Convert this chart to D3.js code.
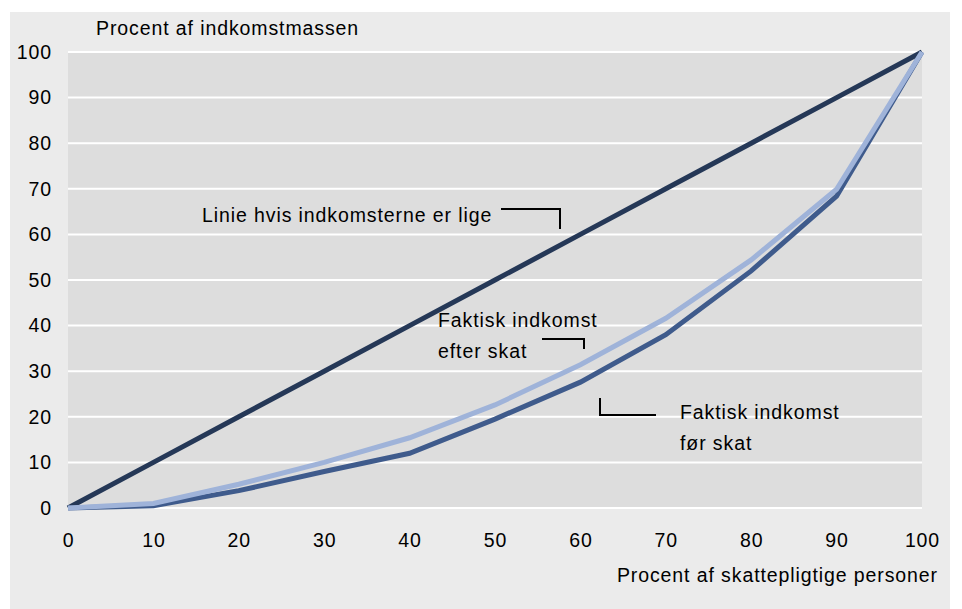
<!DOCTYPE html>
<html>
<head>
<meta charset="utf-8">
<script src="https://cdn.jsdelivr.net/npm/d3@7"></script>
<style>
  body { margin: 0; background: #ffffff; }
  svg text { font-family: "Liberation Sans", Arial, sans-serif; fill: #000; letter-spacing: 0.9px; }
</style>
</head>
<body>
<svg id="chart" width="962" height="609"></svg>
<script>
"use strict";

// data (percent of taxpayers -> percent of income)
var pctPersons = [0, 10, 20, 30, 40, 50, 60, 70, 80, 90, 100];
var equalLine = [0, 10, 20, 30, 40, 50, 60, 70, 80, 90, 100];
var beforeTax = [0, 0.5, 3.8, 8, 12, 19.5, 27.6, 38, 52, 68.4, 100];
var afterTax = [0, 1, 5.2, 10, 15.4, 22.6, 31.4, 41.6, 54.4, 69.9, 100];
var yTicks = [0, 10, 20, 30, 40, 50, 60, 70, 80, 90, 100];
var xTicks = [0, 10, 20, 30, 40, 50, 60, 70, 80, 90, 100];

var svg = d3.select('#chart');
var FONT = '19.5px';

var margin = { top: 52, left: 68, right: 40, bottom: 101 };
var width = 962 - margin.left - margin.right;
var height = 609 - margin.top - margin.bottom;

var X = d3.scaleLinear().domain([0, 100]).range([0, width]);
var Y = d3.scaleLinear().domain([0, 100]).range([height, 0]);

// outer panel
svg.append('rect')
  .attr('x', 10).attr('y', 12)
  .attr('width', 940).attr('height', 597)
  .attr('fill', '#ebebeb');

var plot = svg.append('g')
  .attr('transform', 'translate(' + margin.left + ',' + margin.top + ')');

plot.append('rect')
  .attr('width', width).attr('height', height)
  .attr('fill', '#dddddd');

plot.selectAll('.grid')
  .data(yTicks)
  .enter().append('line')
  .attr('class', 'grid')
  .attr('x1', 0).attr('x2', width)
  .attr('y1', d => Y(d)).attr('y2', d => Y(d))
  .attr('stroke', '#ffffff')
  .attr('stroke-width', 2);

var yaxis = d3.axisLeft(Y).tickValues(yTicks).tickSize(0).tickPadding(16);
var xaxis = d3.axisBottom(X).tickValues(xTicks).tickSize(0).tickPadding(25);

var gy = plot.append('g').attr('class', 'axis y').call(yaxis);
var gx = plot.append('g').attr('class', 'axis x')
  .attr('transform', 'translate(0,' + height + ')').call(xaxis);
[gx, gy].forEach(function (g) {
  g.select('.domain').remove();
  g.selectAll('text')
    .style('font-family', '"Liberation Sans", Arial, sans-serif')
    .style('font-size', FONT)
    .attr('fill', '#000');
});

var line = function (vals) {
  return d3.line()
    .x((d, i) => X(pctPersons[i]))
    .y(d => Y(d))(vals);
};

var series = [
  { vals: equalLine, color: '#253857' },
  { vals: beforeTax, color: '#3f5b8c' },
  { vals: afterTax, color: '#9fb3d9' }
];
series.forEach(function (s) {
  plot.append('path')
    .attr('d', line(s.vals))
    .attr('fill', 'none')
    .attr('stroke', s.color)
    .attr('stroke-width', 5)
    .attr('stroke-linejoin', 'miter');
});

// axis titles
svg.append('text')
  .attr('x', 96).attr('y', 35)
  .style('font-size', FONT)
  .text('Procent af indkomstmassen');
svg.append('text')
  .attr('x', 938).attr('y', 582)
  .attr('text-anchor', 'end')
  .style('font-size', FONT)
  .text('Procent af skattepligtige personer');

// annotations with leader lines
var notes = [
  { lines: ['Linie hvis indkomsterne er lige'], tx: 202, ty: 222,
    path: [[501, 209], [560, 209], [560, 229]] },
  { lines: ['Faktisk indkomst', 'efter skat'], tx: 438, ty: 327,
    path: [[542, 339], [584, 339], [584, 349]] },
  { lines: ['Faktisk indkomst', 'før skat'], tx: 680, ty: 419,
    path: [[600, 398], [600, 415], [656, 415]] }
];
notes.forEach(function (n) {
  var t = svg.append('text')
    .attr('x', n.tx).attr('y', n.ty)
    .style('font-size', FONT);
  n.lines.forEach(function (l, i) {
    t.append('tspan').attr('x', n.tx).attr('dy', i === 0 ? 0 : 31).text(l);
  });
  svg.append('path')
    .attr('d', d3.line()(n.path))
    .attr('fill', 'none')
    .attr('stroke', '#000')
    .attr('stroke-width', 2);
});
</script>
</body>
</html>
